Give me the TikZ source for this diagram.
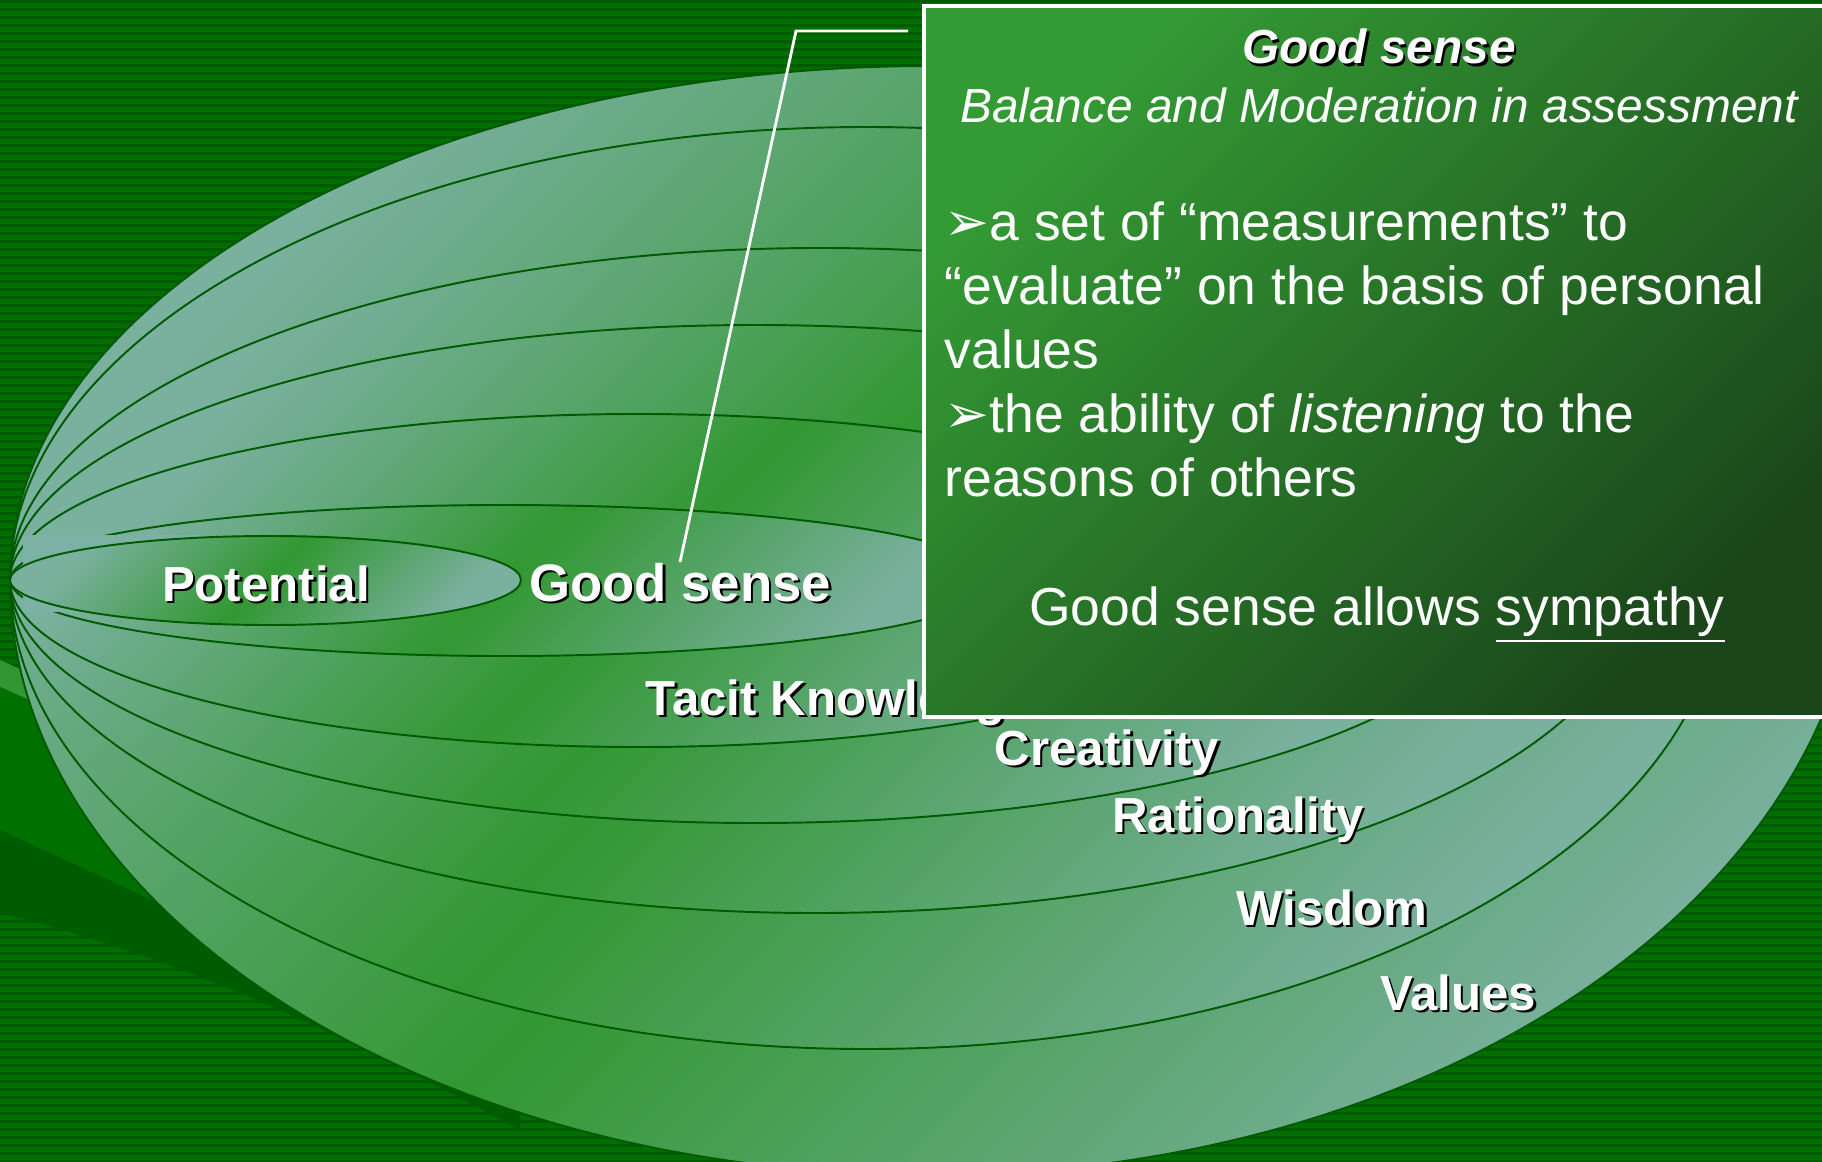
\documentclass[tikz,border=0pt]{standalone}
\usepackage{fontspec}
\setmainfont{Liberation Sans}
\newfontfamily\dingfont{DejaVu Sans}
\definecolor{bgbright}{RGB}{0,110,0}
\definecolor{bgdark}{RGB}{0,90,0}
\definecolor{bandlight}{RGB}{50,150,50}
\definecolor{bandmid}{RGB}{0,112,0}
\definecolor{banddark}{RGB}{0,92,0}
\definecolor{ringlight}{RGB}{122,176,158}
\definecolor{ringgreen}{RGB}{50,152,50}
\definecolor{ringedge}{RGB}{0,90,0}
\definecolor{patchlight}{RGB}{125,177,165}
\definecolor{boxtop}{RGB}{52,155,52}
\definecolor{boxbot}{RGB}{26,70,26}
\newcommand\shadowed[1]{\leavevmode\rlap{\kern0.7pt\raisebox{-0.7pt}{\color{black}#1}}#1}
\tikzset{
  ring/.style={draw=ringedge, line width=0.55pt, top color=ringlight,
    bottom color=ringlight, middle color=ringgreen, shading angle=45},
  lbl/.style={text=white, inner sep=0pt, anchor=base,
    font=\bfseries\fontsize{14}{16}\selectfont},
  gsbox/.style={draw=white, line width=1pt, top color=boxtop, bottom color=boxbot,
    shading angle=45, minimum width=9.1cm, minimum height=7.11cm, inner sep=0pt},
  boxtext/.style={text=white, inner sep=0pt},
}
\begin{document}
\begin{tikzpicture}[x=0.01cm, y=-0.01cm]
\useasboundingbox (0,0) rectangle (1822,1161);
\clip (0,0) rectangle (1822,1161);
% striped background
\fill[bgbright] (0,0) rectangle (1822,1161);
\foreach \y in {0,8,...,1160}
  \fill[bgdark] (0,\y) rectangle (1822,\y+3);
% swoosh bands, lower left
\fill[bandlight] (0,660) -- (520,894) -- (520,921) -- (0,687) -- cycle;
\fill[bandmid] (0,687) -- (520,921) -- (520,1070) -- (0,830) -- cycle;
\fill[banddark] (0,830) -- (520,1070) -- (520,1130)
  .. controls (300,1010) and (150,950) .. (0,913) -- cycle;
% nested rings, outermost first: top / right / bottom points
\foreach \tx/\ty/\rx/\ry/\bx/\by in {930/66/1860/535/930/1175,
    866/127/1723/578/866/1049, 820/248/1641/578/815/913,
    755/325/1510/578/755/823, 638/414/1266/580/638/747,
    505/505/996/580/505/656}
  \path[ring] (10,580) .. controls +(0,{-0.552*(580-\ty)}) and +({-0.552*(\tx-10)},0) .. (\tx,\ty)
    .. controls +({0.552*(\rx-\tx)},0) and +(0,{-0.552*(\ry-\ty)}) .. (\rx,\ry)
    .. controls +(0,{0.552*(\by-\ry)}) and +({0.552*(\rx-\bx)},0) .. (\bx,\by)
    .. controls +({-0.552*(\bx-10)},0) and +(0,{0.552*(\by-580)}) .. (10,580) -- cycle;
\fill[patchlight] (23,535) rectangle (200,612);
\path[ring] (10,580) .. controls +(0,-24.3) and +(-143.5,0) .. (270,536)
  .. controls +(138.6,0) and +(0,-24.3) .. (521,580)
  .. controls +(0,24.6) and +(138.6,0) .. (270,625)
  .. controls +(-143.5,0) and +(0,24.6) .. (10,580) -- cycle;
% ring labels
\node[lbl] (pot) at (266,601) {\shadowed{Potential}};
\node[lbl, font=\bfseries\fontsize{15}{17}\selectfont] (gsl) at (680,601) {\shadowed{Good sense}};
\node[lbl, anchor=base west] (tacit) at (645,715) {\shadowed{Tacit Knowledge}};
\node[lbl] (crea) at (1107,765) {\shadowed{Creativity}};
\node[lbl] (rat) at (1238,832) {\shadowed{Rationality}};
\node[lbl] (wis) at (1332,925) {\shadowed{Wisdom}};
\node[lbl] (val) at (1458,1010) {\shadowed{Values}};
% callout
\coordinate (bend) at (796,31);
\coordinate (tip) at (908,31);
\draw[white, line width=0.8pt] (gsl.north) -- (bend) -- (tip);
% text box
\node[gsbox] (gsbox) at (1379,361.5) {};
\node[boxtext, anchor=base, font=\bfseries\itshape\fontsize{13.6}{16}\selectfont]
  (gstitle) at (1379,64) {\shadowed{Good sense}};
\node[boxtext, anchor=base, font=\itshape\fontsize{13.6}{16}\selectfont]
  (gssub) at (1379,123) {Balance and Moderation in assessment};
\node[boxtext, anchor=north west, align=left, font=\fontsize{15.2}{18.2}\selectfont]
  (gslist) at (944,201) {{\dingfont ➢}a set of “measurements” to\\
  “evaluate” on the basis of personal\\ values\\
  {\dingfont ➢}the ability of \textit{listening} to the\\ reasons of others};
\node[boxtext, anchor=base, font=\fontsize{15.2}{18}\selectfont]
  (gsallow) at (1377,625) {Good sense allows \underline{sympathy}};
\end{tikzpicture}
\end{document}
